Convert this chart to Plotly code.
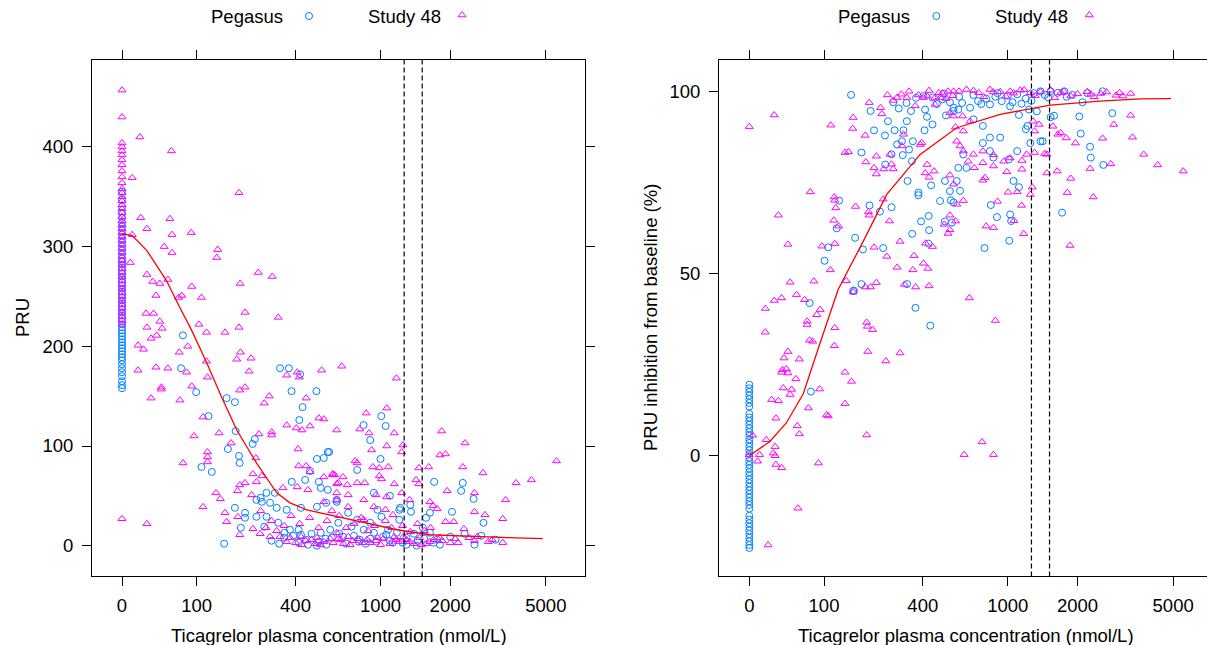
import numpy as np
import plotly.graph_objects as go

W, H = 1207, 645

# ---------------- data ----------------
TICK_VALUES = [0, 100, 400, 1000, 2000, 5000]
TICK_LABELS = ["0", "100", "400", "1000", "2000", "5000"]
REF_CONC = [1270, 1520]

# Left panel: PRU vs concentration
L_PEG_BASE = [158, 161, 165, 170, 174, 178, 182, 186, 189, 192, 195, 198, 201, 204, 207, 210, 213, 216,
              219, 222, 225, 228, 231, 234, 237, 240, 243, 246, 249, 252, 255, 258, 261, 264, 267, 270,
              273, 276, 279, 282, 285, 288, 292, 296, 300, 304, 308, 312, 316, 320, 324, 329, 334, 340,
              347, 355]
L_PEG = [(76, 211), (73, 178), (99, 154), (164, 148), (185, 144), (123, 130), (187, 115), (236, 102),
         (243, 107), (167, 97), (196, 90), (198, 83), (109, 79), (130, 74), (333, 178), (370, 178),
         (422, 172), (382, 155), (507, 155), (434, 139), (418, 126), (575, 94), (510, 87), (550, 88),
         (472, 75), (383, 64), (447, 66), (521, 64), (532, 58), (575, 56), (313, 53), (282, 53),
         (262, 48), (248, 46), (266, 44), (295, 43), (320, 38), (361, 36), (426, 38), (510, 39),
         (565, 43), (633, 44), (185, 38), (213, 33), (248, 29), (282, 29), (213, 28), (274, 19),
         (201, 18), (326, 23), (375, 16), (415, 16), (352, 13), (426, 11), (532, 13), (590, 16),
         (644, 23), (415, 3), (461, 1), (510, 0), (565, 1), (158, 2), (1008, 130), (1054, 120),
         (840, 121), (900, 106), (1000, 87), (786, 76), (583, 94), (1710, 64), (2260, 63), (2225, 55),
         (2510, 47), (2035, 34), (2760, 23), (1530, 18), (1580, 28), (1640, 33), (1360, 34), (1350, 41),
         (1220, 38), (1100, 50), (1210, 36), (1210, 26), (935, 53), (970, 36), (633, 46), (715, 33),
         (786, 26), (842, 16), (935, 13), (1027, 9), (1135, 3), (1300, 1), (1440, 0), (1810, 1),
         (2530, 1), (740, 19), (900, 23), (1010, 29), (677, 9), (808, 6), (1080, 16), (1180, 13),
         (1640, 13), (1760, 6), (300, 5), (350, 8), (450, 6), (520, 4), (600, 8), (700, 2), (800, 4),
         (900, 7), (1100, 5), (1300, 8), (1450, 5), (1700, 3), (2000, 9), (2300, 12), (2700, 10),
         (3100, 6), (330, 2), (390, 10), (480, 12), (560, 7), (650, 12), (760, 10), (860, 2), (960, 4),
         (1060, 11), (1250, 3), (1400, 12), (1550, 7)]
L_S48_BASE = [457, 430, 404, 400, 396, 392, 387, 382, 376, 370, 364, 358, 354, 350, 346, 342, 338, 334,
              330, 326, 322, 318, 314, 310, 306, 302, 298, 294, 290, 286, 282, 278, 274, 270, 266, 262,
              258, 254, 250, 246, 242, 238, 234, 230, 226, 222, 27]
L_S48 = [(18, 410), (58, 396), (10, 369), (196, 354), (19, 329), (56, 328), (26, 318), (59, 312),
         (90, 314), (10, 312), (48, 300), (59, 294), (143, 297), (141, 289), (8, 284), (26, 272),
         (33, 265), (42, 263), (53, 267), (37, 251), (91, 260), (109, 249), (199, 263), (254, 274),
         (303, 270), (69, 249), (74, 251), (25, 233), (34, 233), (213, 234), (326, 229), (42, 225),
         (26, 219), (45, 218), (104, 222), (119, 214), (160, 214), (196, 219), (38, 211), (31, 208),
         (84, 200), (70, 194), (16, 201), (22, 197), (200, 194), (190, 187), (231, 188), (119, 185),
         (16, 176), (37, 179), (53, 178), (82, 174), (225, 175), (361, 171), (408, 174), (418, 169),
         (537, 176), (121, 169), (44, 159), (44, 157), (91, 160), (198, 156), (213, 159), (292, 150),
         (274, 143), (452, 148), (31, 148), (71, 146), (112, 129), (521, 128), (550, 127), (361, 121),
         (404, 118), (431, 116), (472, 120), (633, 116), (95, 110), (146, 113), (256, 112), (301, 111),
         (301, 114), (175, 103), (412, 97), (121, 94), (121, 89), (121, 84), (76, 83), (246, 88),
         (415, 80), (452, 80), (606, 71), (550, 69), (472, 74), (237, 72), (266, 70), (213, 63),
         (198, 61), (248, 64), (192, 55), (233, 51), (139, 53), (149, 47), (112, 39), (160, 33),
         (164, 24), (193, 29), (262, 35), (237, 17), (198, 11), (26, 22), (295, 9), (333, 9), (375, 8),
         (426, 9), (510, 8), (590, 7), (644, 7), (345, 58), (408, 59), (461, 56), (620, 71), (644, 63),
         (550, 44), (633, 46), (668, 180), (1175, 168), (1066, 138), (863, 133), (808, 117), (889, 113),
         (1149, 113), (1066, 100), (1255, 101), (913, 96), (1240, 94), (1840, 115), (2310, 103),
         (1810, 91), (1910, 92), (5530, 85), (769, 85), (786, 83), (925, 79), (988, 78), (1082, 79),
         (1470, 78), (1620, 79), (2260, 79), (2745, 73), (606, 72), (677, 69), (633, 62), (708, 61),
         (786, 63), (851, 63), (988, 70), (1010, 67), (1149, 62), (1430, 66), (1470, 62), (3770, 63),
         (4360, 66), (1940, 55), (2530, 53), (3410, 46), (1240, 53), (1340, 46), (1640, 44), (1690, 40),
         (1760, 37), (2530, 34), (2800, 31), (1910, 24), (2070, 24), (3320, 27), (2285, 17), (2160, 3),
         (2530, 5), (2890, 4), (3320, 3), (633, 53), (715, 51), (842, 46), (955, 51), (1065, 49),
         (715, 39), (935, 39), (1050, 36), (1135, 31), (842, 26), (633, 13), (715, 9), (870, 6),
         (970, 8), (1150, 9), (1300, 6), (1510, 1), (1640, 4), (1810, 8), (400, 3), (450, 5), (500, 2),
         (550, 4), (680, 2), (750, 5), (900, 3), (1000, 1), (1200, 4), (1400, 2), (1700, 6), (2000, 3),
         (2400, 8), (3000, 6), (260, 12), (280, 18), (300, 25), (320, 15), (350, 20), (380, 30),
         (420, 22), (470, 28), (520, 18), (570, 25), (600, 35), (650, 30), (700, 18), (760, 22),
         (820, 28), (880, 15), (940, 20), (1050, 25), (1120, 18), (1250, 20), (1350, 14), (1450, 22),
         (1550, 15), (1650, 18), (360, 4), (430, 1), (480, 6), (530, 1), (610, 3), (660, 6), (730, 1),
         (790, 7), (830, 3), (950, 5), (1030, 7), (1100, 2), (1170, 6), (1260, 9), (1340, 4), (1480, 8),
         (1580, 2), (1850, 5), (2100, 7), (2600, 9)]
L_CURVE_CONC = [0, 10, 26, 51, 71, 90, 119, 150, 190, 248, 320, 375, 455, 583, 842, 1180, 1640, 2590, 3500, 4860]
L_CURVE_PRU = [313, 311, 296, 266, 239, 217, 184, 151, 116, 83, 53, 43, 36, 31, 23, 16, 11, 9, 8, 7]

# Right panel: PRU inhibition from baseline (%)
R_PEG_BASE = [19.5, 18.5, 17.5, 16.5, 15.5, 14.5, 13.5, 11.5, 10.5, 9.5, 8.5, 7.5, 6.5, 5.5, 4.5, 3.5,
              2.5, 1.5, 0.5, -0.5, -1.5, -2.5, -3.5, -4.5, -5.5, -6.5, -7.5, -8.5, -9.5, -10.5, -11.5,
              -12.5, -13.5, -14.5, -16.5, -17.5, -18.5, -19.5, -20.5, -21.5, -22.5, -23.5, -24.5, -25.3]
R_PEG = [(157, 99), (208, 94.6), (300, 95.3), (348, 94.6), (411, 95), (420, 93), (520, 93.4), (447, 90.9),
         (262, 91.8), (285, 89.3), (218, 89.3), (252, 87.9), (318, 89.3), (331, 91.8), (408, 89.3),
         (356, 86.3), (294, 85.4), (312, 86.3), (340, 84), (274, 82.7), (253, 79.9), (315, 82.5),
         (352, 80.8), (183, 83.2), (334, 75.4), (380, 72.2), (380, 71.5), (440, 74.2), (514, 75.4),
         (543, 72.6), (487, 69.9), (549, 70.1), (130, 70), (205, 68.7), (236, 67), (274, 68.2),
         (428, 65.8), (430, 61.9), (392, 64.3), (353, 60.9), (428, 58.2), (514, 64.3), (125, 62.4),
         (167, 59.8), (187, 56.6), (246, 57), (108, 57.2), (101, 53.5), (183, 47.1), (164, 45.3),
         (332, 47.1), (75, 41.9), (403, 98.7), (447, 98.3), (510, 99.4), (543, 97), (565, 94.6),
         (470, 96.5), (1390, 100), (1536, 100), (1760, 100), (2550, 100), (1240, 95), (1120, 93.5),
         (1340, 94.5), (1536, 92.9), (1590, 93.3), (2035, 93.1), (2800, 94), (1220, 90.5), (1200, 89.6),
         (2064, 88.4), (2260, 84.8), (2275, 81.8), (2570, 79.8), (1720, 66.7), (1024, 66.2),
         (1035, 64.4), (895, 65.5), (840, 68.8), (786, 57), (1015, 59), (1256, 85.8), (1390, 86.3),
         (1420, 86.3), (1100, 83.6), (1010, 81.3), (863, 81.8), (832, 83.6), (773, 85.8), (628, 82.7),
         (595, 79), (650, 79), (585, 75.4), (606, 72.7), (565, 69.5), (555, 64), (1120, 73.7),
         (1060, 75.4), (925, 87.3), (832, 87.3), (773, 90.5), (700, 92.3), (675, 95.5), (595, 95),
         (565, 95.5), (735, 97.3), (832, 96.4), (940, 97.3), (1024, 95.9), (600, 98.5), (700, 99),
         (800, 98), (900, 99.5), (1000, 98.8), (1100, 99.2), (1200, 98), (1300, 99.5), (1450, 99),
         (1650, 99.6), (1900, 99), (2200, 99.5), (77, 17.6), (367, 40.6), (436, 35.7), (162, 45.2),
         (280, 97), (330, 96.8), (370, 98.2), (500, 97.8), (620, 96.8), (760, 96.5), (880, 98.5),
         (1050, 97), (1150, 96.6), (1270, 97.4), (1500, 98.3), (1800, 98.5), (2100, 97)]
R_S48 = [(0, 90.3), (26, 93.5), (113, 90.7), (162, 92.8), (161, 89.8), (204, 96.9), (238, 95.5),
         (242, 93.8), (193, 87.9), (143, 83.2), (151, 83.4), (195, 80.6), (218, 79), (225, 77.3),
         (248, 78.7), (225, 82.2), (269, 82.7), (280, 78.7), (274, 80), (318, 88.2), (312, 85),
         (388, 85.4), (395, 85.9), (294, 98.3), (331, 98.3), (366, 96), (420, 98.7), (460, 98.3),
         (489, 98.3), (532, 100), (420, 79.9), (411, 77.6), (430, 76.4), (455, 78.1), (76, 72.4),
         (120, 71), (121, 70.1), (123, 68), (168, 68.4), (202, 66.9), (204, 66), (246, 70.4), (31, 66),
         (119, 64.6), (129, 63), (267, 64.4), (305, 58.8), (413, 58.3), (447, 57.4), (43, 58), (96, 57.5),
         (121, 58.2), (218, 57.2), (258, 54.7), (361, 54.9), (403, 52.8), (424, 51.4), (356, 51),
         (294, 51.7), (112, 51), (46, 47.6), (82, 47.9), (146, 48), (193, 46.3), (208, 46.3), (225, 47.5),
         (322, 47), (368, 46.3), (430, 46.6), (162, 44.9), (26, 42.6), (35, 43.3), (55, 44.2), (67, 42.8),
         (403, 98.3), (460, 96.4), (543, 94.1), (500, 99.5), (560, 98.8), (543, 77), (565, 74.5),
         (543, 66), (510, 63.5), (532, 61), (565, 100), (650, 100.5), (740, 99.6), (832, 100.5),
         (925, 99.9), (1024, 100), (1135, 100.3), (1256, 99.6), (1390, 99.9), (1536, 100.3),
         (1697, 99.6), (1872, 98.7), (2200, 99.9), (2275, 99.2), (2505, 99.4), (2900, 98.9),
         (3338, 99.4), (3100, 98.7), (3338, 93.4), (2840, 90.9), (3400, 87.4), (2550, 87.1),
         (3780, 82.7), (4320, 79.8), (5500, 78.1), (2757, 80.1), (2260, 78.8), (1640, 78.1),
         (1480, 77.6), (1872, 76.1), (1810, 72.2), (2330, 71), (1860, 57.7), (670, 43.3), (1175, 60.9),
         (1065, 64.5), (863, 62.6), (800, 63), (900, 69.8), (1003, 72.3), (1100, 72.4), (1256, 71.7),
         (1280, 73.7), (1150, 68.7), (790, 76.3), (773, 75.6), (990, 77.9), (1155, 78.6), (863, 79.5),
         (773, 80.4), (706, 79), (662, 80.8), (700, 82.7), (628, 83.6), (606, 85), (585, 86.3),
         (773, 83.6), (863, 82.6), (960, 80.8), (1024, 81.7), (1155, 81), (1210, 82.7), (1310, 83.2),
         (1480, 82.7), (1570, 90.4), (1650, 88.2), (1697, 88.6), (1790, 87.2), (1960, 85.8),
         (1370, 90.9), (1310, 89.1), (1450, 82.9), (1290, 91.8), (565, 93.2), (623, 93.2), (577, 90.2),
         (628, 89.1), (675, 91.8), (585, 69), (628, 70), (577, 64.4), (543, 62), (16, 40.4), (93, 40.1),
         (87, 38.7), (71, 36.9), (71, 36), (121, 35.1), (197, 36.6), (199, 35.5), (214, 34.6), (16, 33.9),
         (75, 31.7), (80, 31.4), (120, 30.2), (200, 28.6), (255, 26), (305, 28.2), (43, 28.6), (38, 26.8),
         (59, 26.5), (36, 23.6), (41, 23.8), (35, 22.9), (43, 22.7), (54, 21.1), (37, 18.6), (48, 18.2),
         (46, 16.8), (143, 22.9), (158, 20.4), (92, 18.3), (23, 15.4), (31, 15.1), (73, 13.1), (143, 14.3),
         (105, 11.2), (108, 10.9), (28, 10.3), (56, 8.2), (59, 6), (197, 5.7), (3, 5.6), (17, 4.4),
         (0, 0.3), (10, 0.3), (27, 2.5), (25, 0.7), (27, 0), (8, -1.5), (28, -2.4), (35, -3.3), (90, -2),
         (57, -14.4), (19, -24.5), (880, 37.1), (766, 3.8), (634, 0.3), (863, 0.3),
         (260, 99), (280, 97.5), (310, 99.2), (340, 100), (380, 99), (430, 100.2), (480, 99.6),
         (520, 98), (600, 100), (700, 100.2), (780, 98.5), (860, 99.8), (980, 98.6), (1060, 99.5),
         (1180, 100.4), (1320, 98.8), (1600, 98.2), (1750, 100), (2000, 99.3), (2350, 98.5),
         (2650, 99.8), (3000, 99.6)]
R_CURVE_CONC = [0, 21, 41, 65, 93, 117, 128, 188, 258, 388, 543, 585, 925, 1530, 2480, 3670, 4900]
R_CURVE_INH = [0, 3.9, 9, 17, 31, 41.5, 45.6, 58.9, 71.7, 82.7, 88.7, 90, 93.7, 96.2, 97.3, 97.9, 98]


def T(c):
    """Axis transform used by the original: log(concentration + 100)."""
    return np.log(np.asarray(c, dtype=float) + 100.0)


BLUE = "#0080ff"
MAGENTA = "#ff00ff"
FONT = "Liberation Sans, Arial, sans-serif"
FS = 18.5

# pixel frames
LX0, LX1 = 92, 585
RX0, RX1 = 719, 1207
PY0, PY1 = 59.6, 576.4
PX_PER_LN = 107.8
LZERO, RZERO = 122.0, 749.3

xr_left = [np.log(100) + (LX0 - LZERO) / PX_PER_LN, np.log(100) + (LX1 - LZERO) / PX_PER_LN]
xr_right = [np.log(100) + (RX0 - RZERO) / PX_PER_LN, np.log(100) + (RX1 - RZERO) / PX_PER_LN]

ydom = [(H - PY1) / H, (H - PY0) / H]

fig = go.Figure()

peg_marker = dict(symbol="circle-open", size=7, color=BLUE, line=dict(width=1, color=BLUE))
s48_marker = dict(symbol="triangle-up-open", size=7, color=MAGENTA, line=dict(width=1, color=MAGENTA))

# left panel
lp_c = [0] * len(L_PEG_BASE) + [p[0] for p in L_PEG]
lp_v = L_PEG_BASE + [p[1] for p in L_PEG]
ls_c = [0] * len(L_S48_BASE) + [p[0] for p in L_S48]
ls_v = L_S48_BASE + [p[1] for p in L_S48]
fig.add_trace(go.Scatter(x=T(lp_c), y=lp_v, mode="markers", marker=peg_marker, name="Pegasus",
                         xaxis="x", yaxis="y", showlegend=False, cliponaxis=False))
fig.add_trace(go.Scatter(x=T(ls_c), y=ls_v, mode="markers", marker=s48_marker, name="Study 48",
                         xaxis="x", yaxis="y", showlegend=False, cliponaxis=False))
fig.add_trace(go.Scatter(x=T(L_CURVE_CONC), y=L_CURVE_PRU, mode="lines",
                         line=dict(color="red", width=1.3), xaxis="x", yaxis="y", showlegend=False))

# right panel
rp_c = [0] * len(R_PEG_BASE) + [p[0] for p in R_PEG]
rp_v = R_PEG_BASE + [p[1] for p in R_PEG]
rs_c = [p[0] for p in R_S48]
rs_v = [p[1] for p in R_S48]
fig.add_trace(go.Scatter(x=T(rp_c), y=rp_v, mode="markers", marker=peg_marker, name="Pegasus",
                         xaxis="x2", yaxis="y2", showlegend=False, cliponaxis=False))
fig.add_trace(go.Scatter(x=T(rs_c), y=rs_v, mode="markers", marker=s48_marker, name="Study 48",
                         xaxis="x2", yaxis="y2", showlegend=False, cliponaxis=False))
fig.add_trace(go.Scatter(x=T(R_CURVE_CONC), y=R_CURVE_INH, mode="lines",
                         line=dict(color="red", width=1.3), xaxis="x2", yaxis="y2", showlegend=False))

# legend keys (on an overlay axis measured in pixels)
KEY_Y = 16
LEG_SHIFT = RZERO - LZERO
key_px = [309, 462, 309 + LEG_SHIFT, 462 + LEG_SHIFT]
fig.add_trace(go.Scatter(x=[key_px[0], key_px[2]], y=[KEY_Y, KEY_Y], mode="markers", marker=peg_marker,
                         xaxis="x3", yaxis="y3", showlegend=False, hoverinfo="skip"))
fig.add_trace(go.Scatter(x=[key_px[1], key_px[3]], y=[KEY_Y - 1, KEY_Y - 1], mode="markers", marker=s48_marker,
                         xaxis="x3", yaxis="y3", showlegend=False, hoverinfo="skip"))

axis_common = dict(showgrid=False, zeroline=False, showline=True, linecolor="black", linewidth=1,
                   ticks="outside", ticklen=9, tickwidth=1, tickcolor="black",
                   tickfont=dict(family=FONT, size=FS, color="black"))

tv = [float(v) for v in T(TICK_VALUES)]
fig.update_layout(
    width=W, height=H, margin=dict(l=0, r=0, t=0, b=0),
    paper_bgcolor="white", plot_bgcolor="rgba(0,0,0,0)",
    font=dict(family=FONT, size=FS, color="black"),
    xaxis=dict(domain=[LX0 / W, LX1 / W], range=[float(v) for v in xr_left], tickvals=tv, ticktext=TICK_LABELS,
               mirror="ticks", anchor="y", automargin=False, ticklabelstandoff=3, **axis_common),
    yaxis=dict(domain=ydom, range=[-30.8, 487.6], tickvals=[0, 100, 200, 300, 400],
               mirror="ticks", anchor="x", automargin=False, ticklabelstandoff=5, **axis_common),
    xaxis2=dict(domain=[RX0 / W, 1.0], range=[float(v) for v in xr_right], tickvals=tv, ticktext=TICK_LABELS,
                mirror="ticks", anchor="y2", automargin=False, ticklabelstandoff=3, **axis_common),
    yaxis2=dict(domain=ydom, range=[-33.1, 108.7], tickvals=[0, 50, 100],
                mirror=False, anchor="x2", automargin=False, ticklabelstandoff=5, **axis_common),
    xaxis3=dict(domain=[0, 1], range=[0, W], visible=False, fixedrange=True, anchor="y3"),
    yaxis3=dict(domain=[0, 1], range=[H, 0], visible=False, fixedrange=True, anchor="x3"),
    showlegend=False,
)

shapes = []
for c in REF_CONC:
    for xa in ["x", "x2"]:
        shapes.append(dict(type="line", xref=xa, yref=("y domain" if xa == "x" else "y2 domain"),
                           x0=float(T(c)), x1=float(T(c)), y0=0, y1=1,
                           line=dict(color="black", width=1.2, dash="5px,3px")))
fig.update_layout(shapes=shapes)

ann = []
title_x = "Ticagrelor plasma concentration (nmol/L)"
ann.append(dict(text=title_x, xref="paper", yref="paper", x=(LX0 + LX1) / 2 / W, y=1 - 635 / H,
                showarrow=False, xanchor="center", yanchor="middle", font=dict(size=FS)))
ann.append(dict(text=title_x, xref="paper", yref="paper", x=(RX0 + RX0 + (LX1 - LX0)) / 2 / W, y=1 - 635 / H,
                showarrow=False, xanchor="center", yanchor="middle", font=dict(size=FS)))
ann.append(dict(text="PRU", xref="paper", yref="paper", x=22 / W, y=1 - 318 / H, textangle=-90,
                showarrow=False, xanchor="center", yanchor="middle", font=dict(size=FS)))
ann.append(dict(text="PRU inhibition from baseline (%)", xref="paper", yref="paper", x=650 / W, y=1 - 318 / H,
                textangle=-90, showarrow=False, xanchor="center", yanchor="middle", font=dict(size=FS)))
for shift in [0, LEG_SHIFT]:
    ann.append(dict(text="Pegasus", xref="paper", yref="paper", x=(209 + shift) / W, y=1 - 17 / H,
                    showarrow=False, xanchor="left", yanchor="middle", font=dict(size=FS)))
    ann.append(dict(text="Study 48", xref="paper", yref="paper", x=(366 + shift) / W, y=1 - 17 / H,
                    showarrow=False, xanchor="left", yanchor="middle", font=dict(size=FS)))
fig.update_layout(annotations=ann)

fig.write_html("out.html")
